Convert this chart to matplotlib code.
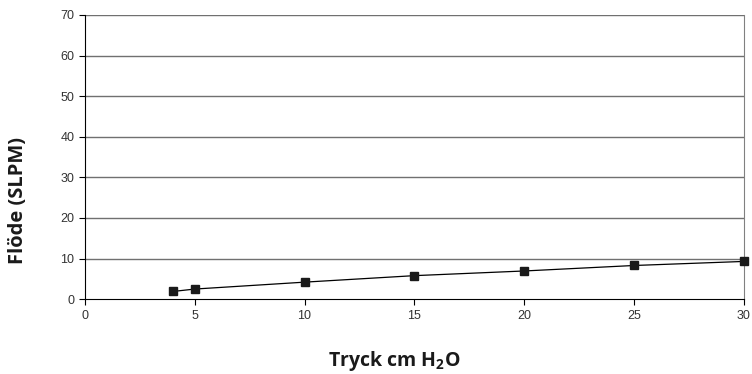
import matplotlib
matplotlib.use("Agg")
import matplotlib.pyplot as plt

plt.rcParams['mathtext.fontset'] = 'custom'
plt.rcParams['mathtext.rm'] = 'Open Sans:bold'

# data
tryck = [4, 5, 10, 15, 20, 25, 30]
flode = [1.9, 2.5, 4.2, 5.8, 6.95, 8.3, 9.3]
xticks = [0, 5, 10, 15, 20, 25, 30]
yticks = [0, 10, 20, 30, 40, 50, 60, 70]

fig = plt.figure(figsize=(7.52, 3.74), dpi=100)
ax = fig.add_axes([0.113, 0.2, 0.876, 0.76])

for y in yticks[1:]:
    ax.axhline(y, color='#707070', lw=1.0, zorder=1)

ax.plot(tryck, flode, color='black', lw=0.9, marker='s', ms=5.5,
        markerfacecolor='#1a1a1a', markeredgecolor='#1a1a1a', zorder=3, clip_on=False)

ax.set_xlim(0, 30)
ax.set_ylim(0, 70)
ax.set_xticks(xticks)
ax.set_yticks(yticks)

ax.spines['top'].set_visible(False)
ax.spines['right'].set_color('#808080')
ax.spines['left'].set_color('black')
ax.spines['bottom'].set_color('black')

ax.tick_params(axis='both', labelsize=9, colors='black', length=4, width=0.8,
               labelcolor='#333333')
for lab in ax.get_xticklabels() + ax.get_yticklabels():
    lab.set_family('Liberation Sans')

# axis titles placed where the reference has them
fig.text(394 / 752, 1 - 361 / 374, 'Tryck cm H$_2$O', family='Open Sans',
         fontweight='bold', fontsize=14, color='#1a1a1a', ha='center', va='center')
fig.text(18 / 752, 1 - 201 / 374, 'Flöde (SLPM)', family='Open Sans',
         fontweight='bold', fontsize=14.5, color='#1a1a1a', ha='center', va='center',
         rotation=90)

fig.savefig('out.png', dpi=100)
